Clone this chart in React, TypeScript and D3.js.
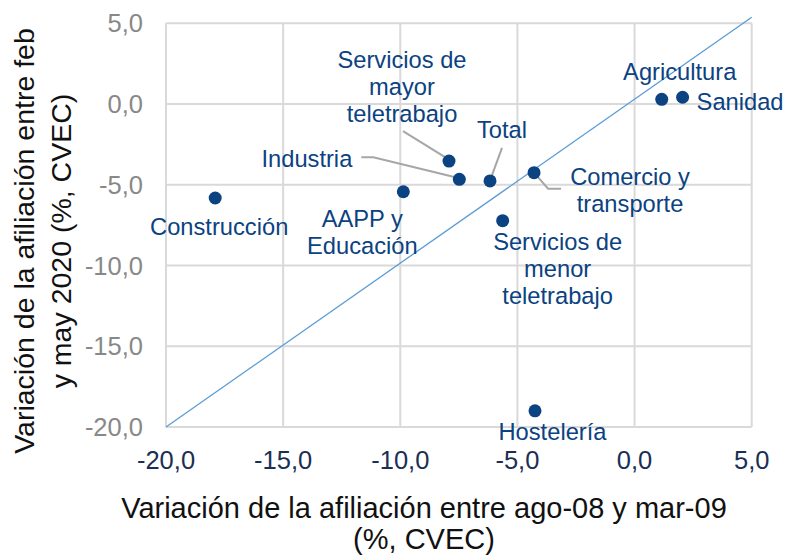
import React from "react";
import * as d3 from "d3";

// ---- Data ----
const sectors = [
  "Construcción",
  "AAPP y Educación",
  "Servicios de mayor teletrabajo",
  "Industria",
  "Total",
  "Comercio y transporte",
  "Servicios de menor teletrabajo",
  "Hostelería",
  "Agricultura",
  "Sanidad",
];
const crisis2008 = [-17.9, -9.87, -7.92, -7.48, -6.17, -4.29, -5.63, -4.25, 1.16, 2.05];
const covid2020 = [-5.82, -5.43, -3.53, -4.66, -4.76, -4.25, -7.22, -19.0, 0.29, 0.42];
const diagonalX = [-20, 5];
const diagonalY = [-20, 5.37];
const xTicks = [-20, -15, -10, -5, 0, 5];
const yTicks = [-20, -15, -10, -5, 0, 5];
const xTitle = ["Variación de la afiliación entre ago-08 y mar-09", "(%, CVEC)"];
const yTitle = ["Variación de la afiliación entre feb", "y may 2020 (%, CVEC)"];

// ---- Label layout (pixel offsets relative to each point) ----
type Lab = { lines: string[]; dx: number; dy: number; anchor: string; leader?: [number, number][] };
const labelLayout: Lab[] = [
  { lines: ["Construcción"], dx: 4, dy: 37, anchor: "middle" },
  { lines: ["AAPP y", "Educación"], dx: -41, dy: 35, anchor: "middle" },
  { lines: ["Servicios de", "mayor", "teletrabajo"], dx: -47, dy: -93, anchor: "middle", leader: [[-46, -30], [-4, -4]] },
  { lines: ["Industria"], dx: -107, dy: -12, anchor: "end", leader: [[-98, -22], [-86, -22], [-4, -2]] },
  { lines: ["Total"], dx: 12, dy: -43, anchor: "middle", leader: [[12, -33], [1, -3]] },
  { lines: ["Comercio y", "transporte"], dx: 96, dy: 12, anchor: "middle", leader: [[0, 0], [14, 16], [27, 16]] },
  { lines: ["Servicios de", "menor", "teletrabajo"], dx: 55, dy: 29, anchor: "middle" },
  { lines: ["Hostelería"], dx: 17.5, dy: 29, anchor: "middle" },
  { lines: ["Agricultura"], dx: 18, dy: -19, anchor: "middle" },
  { lines: ["Sanidad"], dx: 14, dy: 13, anchor: "start" },
];

const W = 787;
const H = 555;
const FONT = "'Liberation Sans', Arial, Helvetica, sans-serif";
const NAVY = "#0b4281";

export default function App() {
  const x = d3.scaleLinear().domain([-20, 5]).range([166, 751.7]);
  const y = d3.scaleLinear().domain([-20, 5]).range([427, 23.3]);
  const lineGen = d3.line<[number, number]>().x((d) => x(d[0])).y((d) => y(d[1]));
  const diag: [number, number][] = diagonalX.map((v, i) => [v, diagonalY[i]]);
  const fmt = (v: number) => v.toFixed(1).replace(".", ",");

  return (
    <svg width={W} height={H} style={{ position: "absolute", left: 0, top: 0, background: "#fff" }} fontFamily={FONT}>
      {/* grid */}
      {xTicks.map((t) => (
        <line key={"gx" + t} x1={x(t)} x2={x(t)} y1={y(5)} y2={y(-20)} stroke="#d9d9d9" strokeWidth={2} />
      ))}
      {yTicks.map((t) => (
        <line key={"gy" + t} x1={x(-20)} x2={x(5)} y1={y(t)} y2={y(t)} stroke="#d9d9d9" strokeWidth={2} />
      ))}
      {/* tick labels */}
      {yTicks.map((t) => (
        <text key={"ty" + t} x={143} y={y(t) + 9} textAnchor="end" fontSize={25.5} fill="#888888">
          {fmt(t)}
        </text>
      ))}
      {xTicks.map((t) => (
        <text key={"tx" + t} x={x(t)} y={469} textAnchor="middle" fontSize={25.5} fill="#1b2f55">
          {fmt(t)}
        </text>
      ))}
      {/* diagonal */}
      <path d={lineGen(diag) || ""} fill="none" stroke="#5b9bd5" strokeWidth={1.3} />
      {/* leaders */}
      {sectors.map((s, i) => {
        const L = labelLayout[i];
        if (!L.leader) return null;
        const px = x(crisis2008[i]);
        const py = y(covid2020[i]);
        const pts = L.leader.map(([a, b]) => [px + a, py + b] as [number, number]);
        return (
          <polyline key={"ld" + s} points={pts.map((p) => p.join(",")).join(" ")} fill="none" stroke="#a6a6a6" strokeWidth={2} />
        );
      })}
      {/* points */}
      {sectors.map((s, i) => (
        <circle key={"pt" + s} cx={x(crisis2008[i])} cy={y(covid2020[i])} r={6.5} fill={NAVY} />
      ))}
      {/* labels */}
      {sectors.map((s, i) => {
        const L = labelLayout[i];
        const px = x(crisis2008[i]);
        const py = y(covid2020[i]);
        return (
          <text key={"lb" + s} x={px + L.dx} y={py + L.dy} textAnchor={L.anchor} fontSize={23.7} fill={NAVY}>
            {L.lines.map((ln, k) => (
              <tspan key={k} x={px + L.dx} dy={k === 0 ? 0 : 27}>
                {ln}
              </tspan>
            ))}
          </text>
        );
      })}
      {/* axis titles */}
      <text x={424} y={518} textAnchor="middle" fontSize={29} fill="#111">
        {xTitle[0]}
      </text>
      <text x={424} y={549} textAnchor="middle" fontSize={29} fill="#111">
        {xTitle[1]}
      </text>
      <g transform="translate(34,241) rotate(-90)">
        <text x={0} y={0} textAnchor="middle" fontSize={28.5} fill="#111">
          {yTitle[0]}
        </text>
        <text x={0} y={37} textAnchor="middle" fontSize={28.5} fill="#111">
          {yTitle[1]}
        </text>
      </g>
    </svg>
  );
}
